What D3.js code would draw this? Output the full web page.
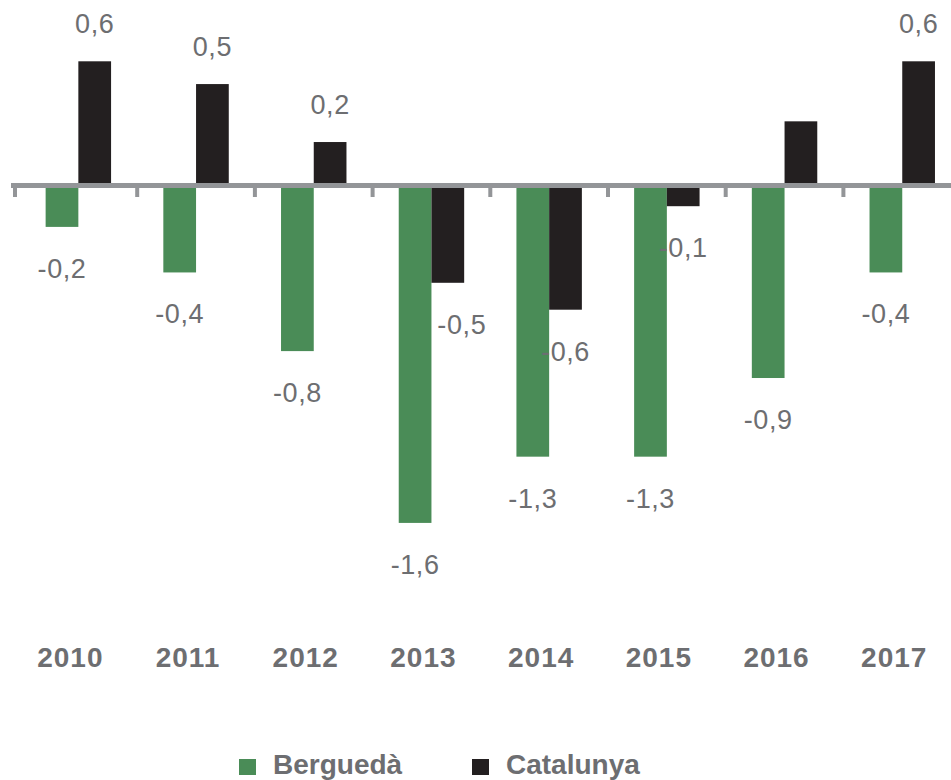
<!DOCTYPE html>
<html>
<head>
<meta charset="utf-8">
<script src="https://cdn.jsdelivr.net/npm/d3@7"></script>
<style>
  body { margin: 0; background: #fff; }
  svg { display: block; font-family: "Liberation Sans", Arial, sans-serif; }
</style>
</head>
<body>
<svg id="chart" width="951" height="780"></svg>
<script>
const years = ['2010', '2011', '2012', '2013', '2014', '2015', '2016', '2017']
const series = ['Berguedà', 'Catalunya']
const bergueda = [-0.20, -0.42, -0.80, -1.63, -1.31, -1.31, -0.93, -0.42]
const catalunya = [0.60, 0.49, 0.21, -0.47, -0.60, -0.10, 0.31, 0.60]
const berguedaLabels = ['-0,2', '-0,4', '-0,8', '-1,6', '-1,3', '-1,3', '-0,9', '-0,4']
const catalunyaLabels = ['0,6', '0,5', '0,2', '-0,5', '-0,6', '-0,1', '', '0,6']

const colors = ['#4a8c57', '#231f20']
const textGray = '#6d6e71'

const svg = d3.select('#chart')

const step = 117.7
const x = d3.scaleBand()
    .domain(years)
    .range([19.5, 19.5 + step * years.length])
    .paddingInner(0.444)
    .paddingOuter(0.222)

const xSeries = d3.scaleBand()
    .domain(series)
    .range([0, x.bandwidth()])

const y = d3.scaleLinear()
    .domain([-2, 0.8])
    .range([185.5 + 2 * 207, 185.5 - 0.8 * 207])

const rows = years.map((year, i) => ({
    year: year,
    values: [
        { key: series[0], value: bergueda[i], label: berguedaLabels[i] },
        { key: series[1], value: catalunya[i], label: catalunyaLabels[i] }
    ]
}))

const group = svg.selectAll('g.year')
    .data(rows)
    .enter()
    .append('g')
    .attr('class', 'year')
    .attr('transform', (d) => `translate(${x(d.year)},0)`)

// bars start at the edge of the thick zero line
group.selectAll('rect')
    .data((d) => d.values)
    .enter()
    .append('rect')
    .attr('x', (d) => xSeries(d.key))
    .attr('width', xSeries.bandwidth())
    .attr('y', (d) => d.value > 0 ? y(d.value) : y(0) + 2.5)
    .attr('height', (d) => d.value > 0 ? y(0) - 2.5 - y(d.value) : y(d.value) - y(0) - 2.5)
    .attr('fill', (d, i) => colors[i])

group.selectAll('text.value')
    .data((d) => d.values.map((v) => Object.assign({ year: d.year }, v)))
    .enter()
    .append('text')
    .attr('class', 'value')
    .attr('x', (d) => xSeries(d.key) + xSeries.bandwidth() / 2 + (d.year === '2013' && d.key === 'Catalunya' ? 14 : 0))
    .attr('y', (d) => d.value > 0 ? y(d.value) - 28 : y(d.value) + 51)
    .attr('text-anchor', 'middle')
    .attr('font-size', 27)
    .attr('letter-spacing', 0.6)
    .attr('fill', textGray)
    .text((d) => d.label)

// zero line and ticks between categories
svg.append('line')
    .attr('x1', 11)
    .attr('x2', 951)
    .attr('y1', y(0))
    .attr('y2', y(0))
    .attr('stroke', '#939598')
    .attr('stroke-width', 5)

svg.selectAll('line.tick')
    .data(years)
    .enter()
    .append('line')
    .attr('class', 'tick')
    .attr('x1', (d, i) => i === 0 ? 15 : x(d) - x.step() * x.paddingInner() / 2)
    .attr('x2', (d, i) => i === 0 ? 15 : x(d) - x.step() * x.paddingInner() / 2)
    .attr('y1', y(0))
    .attr('y2', y(0) + 11.5)
    .attr('stroke', '#939598')
    .attr('stroke-width', 4)

svg.selectAll('text.year-label')
    .data(years)
    .enter()
    .append('text')
    .attr('class', 'year-label')
    .attr('x', (d) => x(d) + x.bandwidth() / 2 - 8)
    .attr('y', 667)
    .attr('text-anchor', 'middle')
    .attr('font-size', 28)
    .attr('font-weight', 'bold')
    .attr('letter-spacing', 1)
    .attr('fill', textGray)
    .text((d) => d)

const legendX = [239, 472]
const legend = svg.selectAll('g.legend')
    .data(series)
    .enter()
    .append('g')
    .attr('class', 'legend')
    .attr('transform', (d, i) => `translate(${legendX[i]},759)`)

legend.append('rect')
    .attr('width', 17)
    .attr('height', 16)
    .attr('fill', (d, i) => colors[i])

legend.append('text')
    .attr('x', 34)
    .attr('y', 15)
    .attr('font-size', 28)
    .attr('font-weight', 'bold')
    .attr('fill', textGray)
    .text((d) => d)
</script>
</body>
</html>
